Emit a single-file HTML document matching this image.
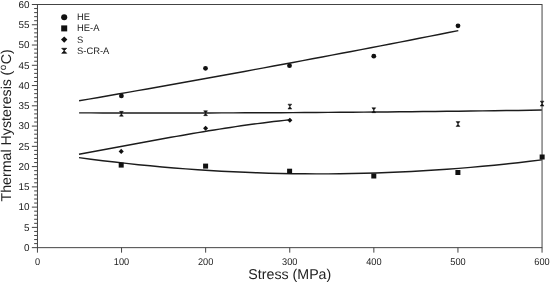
<!DOCTYPE html><html><head><meta charset="utf-8"><style>html,body{margin:0;padding:0;background:#fff}body{width:550px;height:282px;overflow:hidden;position:relative;font-family:"Liberation Sans",sans-serif}</style></head><body><svg width="550" height="282" viewBox="0 0 550 282" style="position:absolute;left:0;top:0;will-change:transform;opacity:0.999">
<rect x="0" y="0" width="550" height="282" fill="#fff"/>
<g stroke="#444" stroke-width="1" fill="none" shape-rendering="auto">
<rect x="37.45" y="4.50" width="504.60" height="243.15"/>
</g>
<g stroke="#444" stroke-width="1">
<line x1="31.85" y1="247.65" x2="37.45" y2="247.65"/>
<line x1="34.15" y1="243.60" x2="37.45" y2="243.60"/>
<line x1="34.15" y1="239.55" x2="37.45" y2="239.55"/>
<line x1="34.15" y1="235.49" x2="37.45" y2="235.49"/>
<line x1="34.15" y1="231.44" x2="37.45" y2="231.44"/>
<line x1="31.85" y1="227.39" x2="37.45" y2="227.39"/>
<line x1="34.15" y1="223.34" x2="37.45" y2="223.34"/>
<line x1="34.15" y1="219.28" x2="37.45" y2="219.28"/>
<line x1="34.15" y1="215.23" x2="37.45" y2="215.23"/>
<line x1="34.15" y1="211.18" x2="37.45" y2="211.18"/>
<line x1="31.85" y1="207.12" x2="37.45" y2="207.12"/>
<line x1="34.15" y1="203.07" x2="37.45" y2="203.07"/>
<line x1="34.15" y1="199.02" x2="37.45" y2="199.02"/>
<line x1="34.15" y1="194.97" x2="37.45" y2="194.97"/>
<line x1="34.15" y1="190.92" x2="37.45" y2="190.92"/>
<line x1="31.85" y1="186.86" x2="37.45" y2="186.86"/>
<line x1="34.15" y1="182.81" x2="37.45" y2="182.81"/>
<line x1="34.15" y1="178.76" x2="37.45" y2="178.76"/>
<line x1="34.15" y1="174.70" x2="37.45" y2="174.70"/>
<line x1="34.15" y1="170.65" x2="37.45" y2="170.65"/>
<line x1="31.85" y1="166.60" x2="37.45" y2="166.60"/>
<line x1="34.15" y1="162.55" x2="37.45" y2="162.55"/>
<line x1="34.15" y1="158.50" x2="37.45" y2="158.50"/>
<line x1="34.15" y1="154.44" x2="37.45" y2="154.44"/>
<line x1="34.15" y1="150.39" x2="37.45" y2="150.39"/>
<line x1="31.85" y1="146.34" x2="37.45" y2="146.34"/>
<line x1="34.15" y1="142.28" x2="37.45" y2="142.28"/>
<line x1="34.15" y1="138.23" x2="37.45" y2="138.23"/>
<line x1="34.15" y1="134.18" x2="37.45" y2="134.18"/>
<line x1="34.15" y1="130.13" x2="37.45" y2="130.13"/>
<line x1="31.85" y1="126.08" x2="37.45" y2="126.08"/>
<line x1="34.15" y1="122.02" x2="37.45" y2="122.02"/>
<line x1="34.15" y1="117.97" x2="37.45" y2="117.97"/>
<line x1="34.15" y1="113.92" x2="37.45" y2="113.92"/>
<line x1="34.15" y1="109.87" x2="37.45" y2="109.87"/>
<line x1="31.85" y1="105.81" x2="37.45" y2="105.81"/>
<line x1="34.15" y1="101.76" x2="37.45" y2="101.76"/>
<line x1="34.15" y1="97.71" x2="37.45" y2="97.71"/>
<line x1="34.15" y1="93.66" x2="37.45" y2="93.66"/>
<line x1="34.15" y1="89.60" x2="37.45" y2="89.60"/>
<line x1="31.85" y1="85.55" x2="37.45" y2="85.55"/>
<line x1="34.15" y1="81.50" x2="37.45" y2="81.50"/>
<line x1="34.15" y1="77.44" x2="37.45" y2="77.44"/>
<line x1="34.15" y1="73.39" x2="37.45" y2="73.39"/>
<line x1="34.15" y1="69.34" x2="37.45" y2="69.34"/>
<line x1="31.85" y1="65.29" x2="37.45" y2="65.29"/>
<line x1="34.15" y1="61.23" x2="37.45" y2="61.23"/>
<line x1="34.15" y1="57.18" x2="37.45" y2="57.18"/>
<line x1="34.15" y1="53.13" x2="37.45" y2="53.13"/>
<line x1="34.15" y1="49.08" x2="37.45" y2="49.08"/>
<line x1="31.85" y1="45.03" x2="37.45" y2="45.03"/>
<line x1="34.15" y1="40.97" x2="37.45" y2="40.97"/>
<line x1="34.15" y1="36.92" x2="37.45" y2="36.92"/>
<line x1="34.15" y1="32.87" x2="37.45" y2="32.87"/>
<line x1="34.15" y1="28.81" x2="37.45" y2="28.81"/>
<line x1="31.85" y1="24.76" x2="37.45" y2="24.76"/>
<line x1="34.15" y1="20.71" x2="37.45" y2="20.71"/>
<line x1="34.15" y1="16.66" x2="37.45" y2="16.66"/>
<line x1="34.15" y1="12.60" x2="37.45" y2="12.60"/>
<line x1="34.15" y1="8.55" x2="37.45" y2="8.55"/>
<line x1="31.85" y1="4.50" x2="37.45" y2="4.50"/>
<line x1="37.45" y1="247.65" x2="37.45" y2="252.65"/>
<line x1="121.55" y1="247.65" x2="121.55" y2="252.65"/>
<line x1="205.65" y1="247.65" x2="205.65" y2="252.65"/>
<line x1="289.75" y1="247.65" x2="289.75" y2="252.65"/>
<line x1="373.85" y1="247.65" x2="373.85" y2="252.65"/>
<line x1="457.95" y1="247.65" x2="457.95" y2="252.65"/>
<line x1="542.05" y1="247.65" x2="542.05" y2="252.65"/>
</g>
<g font-family="Liberation Sans, sans-serif" fill="#222" text-rendering="geometricPrecision">
<text x="29.45" y="250.95" font-size="9.9" text-anchor="end">0</text>
<text x="29.45" y="230.69" font-size="9.9" text-anchor="end">5</text>
<text x="29.45" y="210.43" font-size="9.9" text-anchor="end">10</text>
<text x="29.45" y="190.16" font-size="9.9" text-anchor="end">15</text>
<text x="29.45" y="169.90" font-size="9.9" text-anchor="end">20</text>
<text x="29.45" y="149.64" font-size="9.9" text-anchor="end">25</text>
<text x="29.45" y="129.38" font-size="9.9" text-anchor="end">30</text>
<text x="29.45" y="109.11" font-size="9.9" text-anchor="end">35</text>
<text x="29.45" y="88.85" font-size="9.9" text-anchor="end">40</text>
<text x="29.45" y="68.59" font-size="9.9" text-anchor="end">45</text>
<text x="29.45" y="48.33" font-size="9.9" text-anchor="end">50</text>
<text x="29.45" y="28.06" font-size="9.9" text-anchor="end">55</text>
<text x="29.45" y="7.80" font-size="9.9" text-anchor="end">60</text>
<text transform="translate(37.45,264.6) scale(0.94,1)" font-size="9.8" text-anchor="middle">0</text>
<text transform="translate(121.55,264.6) scale(0.94,1)" font-size="9.8" text-anchor="middle">100</text>
<text transform="translate(205.65,264.6) scale(0.94,1)" font-size="9.8" text-anchor="middle">200</text>
<text transform="translate(289.75,264.6) scale(0.94,1)" font-size="9.8" text-anchor="middle">300</text>
<text transform="translate(373.85,264.6) scale(0.94,1)" font-size="9.8" text-anchor="middle">400</text>
<text transform="translate(457.95,264.6) scale(0.94,1)" font-size="9.8" text-anchor="middle">500</text>
<text transform="translate(542.05,264.6) scale(0.94,1)" font-size="9.8" text-anchor="middle">600</text>
<text x="289.8" y="278.6" font-size="14.22" text-anchor="middle">Stress (MPa)</text>
<text transform="translate(11.1,201.5) rotate(-90)" font-size="14.22" text-anchor="start">Thermal Hysteresis<tspan dx="-0.5"> (</tspan><tspan font-size="9.8" dy="-5.0" dx="0.6">o</tspan><tspan dy="5.0" dx="0.5">C)</tspan></text>
<text x="77.0" y="20.20" font-size="9.4">HE</text>
<text x="77.0" y="31.40" font-size="9.4">HE-A</text>
<text x="77.0" y="42.60" font-size="9.4">S</text>
<text x="77.0" y="53.70" font-size="9.4">S-CR-A</text>
</g>
<g stroke="#1c1c1c" stroke-width="1.45" fill="none" stroke-linecap="butt">
<path d="M79.10,100.81 L88.82,99.14 L98.55,97.46 L108.27,95.77 L117.99,94.07 L127.72,92.37 L137.44,90.66 L147.16,88.95 L156.88,87.23 L166.61,85.50 L176.33,83.77 L186.05,82.03 L195.78,80.28 L205.50,78.53 L215.22,76.77 L224.95,75.00 L234.67,73.23 L244.39,71.45 L254.12,69.66 L263.84,67.87 L273.56,66.07 L283.28,64.27 L293.01,62.45 L302.73,60.63 L312.45,58.81 L322.18,56.98 L331.90,55.14 L341.62,53.30 L351.35,51.44 L361.07,49.59 L370.79,47.72 L380.52,45.85 L390.24,43.97 L399.96,42.09 L409.68,40.20 L419.41,38.30 L429.13,36.40 L438.85,34.49 L448.58,32.58 L458.30,30.65"/>
<path d="M79.10,112.85 L90.96,112.89 L102.83,112.91 L114.69,112.93 L126.56,112.95 L138.42,112.96 L150.28,112.97 L162.15,112.97 L174.01,112.96 L185.88,112.95 L197.74,112.93 L209.61,112.91 L221.47,112.88 L233.33,112.85 L245.20,112.81 L257.06,112.77 L268.93,112.72 L280.79,112.66 L292.65,112.60 L304.52,112.53 L316.38,112.46 L328.25,112.39 L340.11,112.30 L351.97,112.22 L363.84,112.12 L375.70,112.02 L387.57,111.92 L399.43,111.81 L411.29,111.69 L423.16,111.57 L435.02,111.45 L446.89,111.31 L458.75,111.18 L470.62,111.03 L482.48,110.89 L494.34,110.73 L506.21,110.57 L518.07,110.41 L529.94,110.24 L541.80,110.06"/>
<path d="M79.00,154.19 L84.41,153.21 L89.81,152.23 L95.22,151.24 L100.62,150.25 L106.03,149.25 L111.43,148.25 L116.84,147.25 L122.24,146.25 L127.65,145.24 L133.05,144.24 L138.46,143.24 L143.86,142.24 L149.27,141.25 L154.67,140.26 L160.08,139.28 L165.48,138.30 L170.89,137.33 L176.29,136.37 L181.70,135.42 L187.10,134.48 L192.51,133.55 L197.91,132.63 L203.32,131.73 L208.72,130.84 L214.13,129.96 L219.53,129.10 L224.94,128.26 L230.34,127.43 L235.75,126.63 L241.15,125.84 L246.56,125.08 L251.96,124.33 L257.37,123.61 L262.77,122.91 L268.18,122.24 L273.58,121.59 L278.99,120.97 L284.39,120.37 L289.80,119.81"/>
<path d="M79.00,157.60 L90.87,159.17 L102.73,160.66 L114.60,162.07 L126.47,163.40 L138.33,164.66 L150.20,165.83 L162.07,166.92 L173.93,167.93 L185.80,168.87 L197.67,169.72 L209.53,170.49 L221.40,171.19 L233.27,171.80 L245.13,172.34 L257.00,172.80 L268.87,173.17 L280.73,173.47 L292.60,173.69 L304.47,173.82 L316.33,173.88 L328.20,173.86 L340.07,173.76 L351.93,173.58 L363.80,173.32 L375.67,172.98 L387.53,172.56 L399.40,172.06 L411.27,171.48 L423.13,170.82 L435.00,170.08 L446.87,169.26 L458.73,168.37 L470.60,167.39 L482.47,166.33 L494.33,165.20 L506.20,163.98 L518.07,162.68 L529.93,161.31 L541.80,159.86"/>
</g>
<g fill="#111">
<circle cx="121.4" cy="95.9" r="2.4"/>
<circle cx="205.5" cy="68.3" r="2.4"/>
<circle cx="289.5" cy="65.7" r="2.4"/>
<circle cx="373.8" cy="56.2" r="2.4"/>
<circle cx="458" cy="25.8" r="2.4"/>
<circle cx="64.2" cy="17.3" r="3.05"/>
<rect x="118.70" y="162.60" width="5.0" height="5.0"/>
<rect x="203.10" y="163.60" width="5.0" height="5.0"/>
<rect x="287.10" y="168.70" width="5.0" height="5.0"/>
<rect x="371.30" y="173.50" width="5.0" height="5.0"/>
<rect x="455.40" y="170.00" width="5.0" height="5.0"/>
<rect x="539.65" y="154.50" width="5.0" height="5.0"/>
<rect x="61.20" y="25.40" width="6.0" height="6.0"/>
<path d="M118.65,151.4 L121.2,148.85 L123.75,151.4 L121.2,153.95Z"/>
<path d="M203.05,128.3 L205.6,125.75 L208.15,128.3 L205.6,130.85Z"/>
<path d="M287.30,120.3 L289.85,117.75 L292.40,120.3 L289.85,122.85Z"/>
<path d="M61.00,39.6 L64.2,36.40 L67.40,39.6 L64.2,42.80Z"/>
<path d="M119.50,111.35 L123.30,111.35 L121.4,113.8 L123.30,116.25 L119.50,116.25 L121.4,113.8Z" stroke="#111" stroke-width="0.5" stroke-linejoin="miter"/>
<path d="M203.70,110.75 L207.50,110.75 L205.6,113.2 L207.50,115.65 L203.70,115.65 L205.6,113.2Z" stroke="#111" stroke-width="0.5" stroke-linejoin="miter"/>
<path d="M287.95,104.15 L291.75,104.15 L289.85,106.6 L291.75,109.05 L287.95,109.05 L289.85,106.6Z" stroke="#111" stroke-width="0.5" stroke-linejoin="miter"/>
<path d="M371.90,107.75 L375.70,107.75 L373.8,110.2 L375.70,112.65 L371.90,112.65 L373.8,110.2Z" stroke="#111" stroke-width="0.5" stroke-linejoin="miter"/>
<path d="M456.10,121.60 L459.90,121.60 L458.0,124.05 L459.90,126.50 L456.10,126.50 L458.0,124.05Z" stroke="#111" stroke-width="0.5" stroke-linejoin="miter"/>
<path d="M540.20,101.15 L544.00,101.15 L542.1,103.6 L544.00,106.05 L540.20,106.05 L542.1,103.6Z" stroke="#111" stroke-width="0.5" stroke-linejoin="miter"/>
<path d="M61.70,48.30 L66.70,48.30 L64.2,50.8 L66.70,53.30 L61.70,53.30 L64.2,50.8Z" stroke="#111" stroke-width="0.7" stroke-linejoin="miter"/>
</g>
</svg></body></html>
